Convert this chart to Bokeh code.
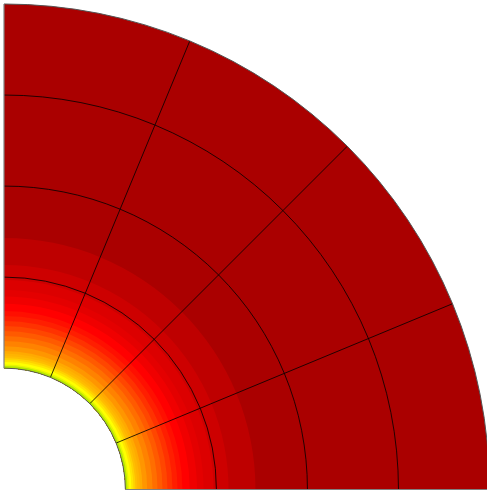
import math
from bokeh.plotting import figure
from bokeh.models import Range1d
from bokeh.embed import file_html
from bokeh.resources import INLINE

# Field bands (radius of band edges and colours), inner to outer
band_edges = [1.0, 1.0175, 1.03, 1.05, 1.067, 1.083, 1.10, 1.12, 1.141, 1.18, 1.224, 1.265,
              1.306, 1.347, 1.388, 1.43, 1.47, 1.53, 1.59, 1.644, 1.726, 1.85, 2.072, 4.0]
band_colors = ["#b4e600", "#e6f500", "#ffff00", "#ffe600", "#ffd200", "#ffbe00", "#ffb400",
               "#ffaa00", "#ff9600", "#ff8200", "#ff6e00", "#ff5a00", "#ff4600", "#ff3200",
               "#ff1e00", "#ff0f00", "#ff0000", "#f00000", "#e40000", "#dc0000", "#cd0000",
               "#be0000", "#aa0000"]
# Mesh
inner_radius = 1.0
outer_radius = 4.0
ring_radii = [1.75, 2.5, 3.25]
spoke_degrees = [22.5, 45.0, 67.5]

W, H = 487, 492
SCALE = 121.375            # pixels per data unit
X0, Y0 = 3.5, 489.0        # pixel position of the centre

p = figure(width=W, height=H, output_backend="svg", toolbar_location=None,
           x_range=Range1d(-X0 / SCALE, (W - X0) / SCALE),
           y_range=Range1d(-(H - Y0) / SCALE, Y0 / SCALE),
           min_border=0)
p.axis.visible = False
p.grid.visible = False
p.outline_line_color = None
p.background_fill_color = "white"
p.border_fill_color = "white"

half_pi = math.pi / 2
# Painted outermost first, each band reaching down to the inner radius, so no seams show
p.annular_wedge(x=0, y=0, inner_radius=inner_radius, outer_radius=band_edges[1:][::-1],
                start_angle=0, end_angle=half_pi, fill_color=band_colors[::-1],
                line_color=None)

# Mesh rings and spokes
p.arc(x=0, y=0, radius=ring_radii, start_angle=0, end_angle=half_pi,
      line_color="#000000", line_width=1, line_alpha=0.8)
spokes_x = [[inner_radius * math.cos(math.radians(d)), outer_radius * math.cos(math.radians(d))]
            for d in spoke_degrees]
spokes_y = [[inner_radius * math.sin(math.radians(d)), outer_radius * math.sin(math.radians(d))]
            for d in spoke_degrees]
p.multi_line(spokes_x, spokes_y, line_color="#000000", line_width=1, line_alpha=0.8)

# Domain outline
p.arc(x=0, y=0, radius=[inner_radius, outer_radius], start_angle=0, end_angle=half_pi,
      line_color="#555555", line_width=1)
p.multi_line([[0, 0], [inner_radius, outer_radius]],
             [[inner_radius, outer_radius], [0, 0]],
             line_color="#808080", line_width=1.2)

open("out.html", "w").write(file_html(p, INLINE))
